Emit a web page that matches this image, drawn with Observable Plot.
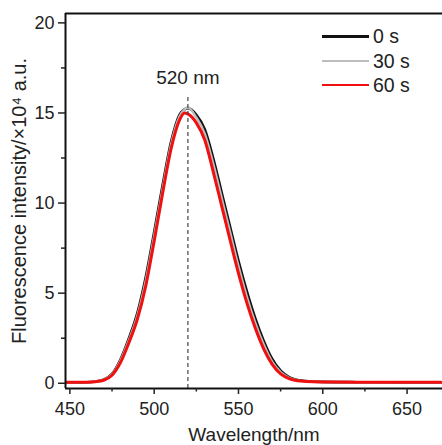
<!DOCTYPE html>
<html><head><meta charset="utf-8">
<script src="https://cdn.jsdelivr.net/npm/d3@7"></script>
<script src="https://cdn.jsdelivr.net/npm/@observablehq/plot@0.6"></script>
<style>
body{margin:0;background:#fff;font-family:"Liberation Sans",Arial,sans-serif;}
#wrap{position:relative;width:442px;height:445px;}
.leg{position:absolute;left:322px;height:24px;line-height:24px;display:flex;align-items:center;font-size:19.5px;color:#222;}
.leg span.l{display:inline-block;width:47px;margin-right:4px;}
</style>
</head><body><div id="wrap"></div>
<script>
const wavelengths = [448,455,460,465,470,475,480,485,490,495,500,505,510,515,518,520,525,530,535,540,545,550,555,560,565,570,575,580,585,590,600,620,650,670];
const s0 = [0.05,0.05,0.06,0.1,0.2,0.52,1.32,2.5,3.9,5.9,8.4,11.0,13.4,14.9,15.2,15.27,14.9,14.1,12.5,10.6,8.7,6.8,5.1,3.6,2.35,1.35,0.7,0.34,0.18,0.12,0.08,0.06,0.05,0.05];
const s30 = [0.05,0.05,0.06,0.1,0.19,0.5,1.26,2.4,3.75,5.7,8.2,10.8,13.25,14.8,15.2,15.3,14.75,13.85,12.2,10.3,8.4,6.5,4.8,3.35,2.15,1.2,0.62,0.3,0.16,0.1,0.08,0.06,0.05,0.05];
const s60 = [0.05,0.05,0.06,0.09,0.17,0.45,1.15,2.25,3.55,5.4,7.9,10.55,13.0,14.6,15.0,14.95,14.45,13.5,11.75,9.85,7.95,6.1,4.45,3.05,1.9,1.05,0.52,0.26,0.14,0.1,0.07,0.06,0.05,0.05];
const seriesNames = ["0 s","30 s","60 s"];
const seriesColors = ["#111111","#bdbdbd","#f01010"];
const seriesWidths = [2.6,2.4,3];
const xTicks = [450,500,550,600,650];
const xMinor = [475,525,575,625];
const yTicks = [0,5,10,15,20];
const yMinor = [2.5,7.5,12.5,17.5];
const xDomain = [447.4,671];
const yDomain = [-0.29,20.52];
const peakLine = [{wavelength:520, from:-0.29, to:16.0}];
const peakLabel = [{wavelength:520, value:16.95, text:"520 nm"}];

const allSeries = [s0,s30,s60];
const rows = [];
allSeries.forEach((s,k)=>s.forEach((v,i)=>rows.push({wavelength:wavelengths[i], value:v, series:seriesNames[k]})));

const marks = [];
allSeries.forEach((s,k)=>{
  marks.push(Plot.line(rows.filter(r=>r.series===seriesNames[k]),{x:"wavelength",y:"value",stroke:seriesColors[k],strokeWidth:seriesWidths[k],curve:"monotone-x"}));
});
const plot = Plot.plot({
  width:442, height:445,
  marginLeft:65, marginRight:0, marginTop:13, marginBottom:57,
  style:{fontFamily:'"Liberation Sans",Arial,sans-serif', color:"#222", background:"#fff"},
  x:{domain:xDomain, axis:null},
  y:{domain:yDomain, axis:null},
  marks:[
    ...marks,
    Plot.ruleX(peakLine,{x:"wavelength",y1:"from",y2:"to",stroke:"#444",strokeWidth:1.2,strokeDasharray:"4,3"}),
    Plot.text(peakLabel,{x:"wavelength",y:"value",text:"text",fontSize:19,fill:"#222"}),
    Plot.ruleX([xDomain[0]],{stroke:"#111",strokeWidth:2}),
    Plot.ruleY([yDomain[0]],{stroke:"#111",strokeWidth:2}),
    Plot.ruleY([yDomain[1]],{stroke:"#111",strokeWidth:2}),
    Plot.axisX(xTicks,{tickSize:0,text:null,label:"Wavelength/nm",labelAnchor:"center",labelArrow:"none",labelOffset:52,fontSize:19}),
    Plot.axisX(xTicks,{tickSize:6,tickPadding:8,fontSize:18,strokeWidth:1.5,label:null}),
    Plot.axisX(xMinor,{tickSize:3.5,strokeWidth:1.5,text:null,label:null}),
    Plot.axisY(yTicks,{tickSize:7,tickPadding:4,fontSize:18,strokeWidth:1.5,label:null}),
    Plot.axisY(yTicks,{tickSize:0,text:null,fontSize:20,label:"Fluorescence intensity/×10⁴ a.u.",labelAnchor:"center",labelArrow:"none",labelOffset:54}),
    Plot.axisY(yMinor,{tickSize:4,strokeWidth:1.5,text:null,label:null})
  ]
});
const wrap = document.getElementById("wrap");
wrap.appendChild(plot);
const legendCenters = [36,60.5,85];
seriesNames.forEach((n,k)=>{
  const d=document.createElement("div");
  d.className="leg";
  d.style.top=(legendCenters[k]-12)+"px";
  d.innerHTML=`<span class="l" style="border-top:${k===0?3:2.5}px solid ${seriesColors[k]}"></span><span>${n}</span>`;
  wrap.appendChild(d);
});
</script>
</body></html>
